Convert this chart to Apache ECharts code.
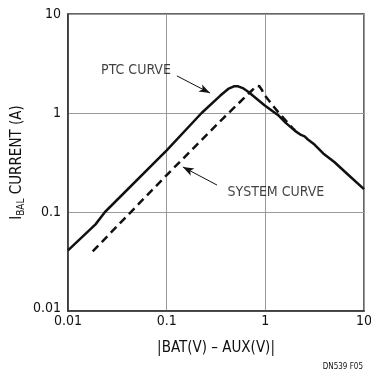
<!DOCTYPE html>
<html>
<head>
<meta charset="utf-8">
<style>
  html, body { margin: 0; padding: 0; background: #fff; }
  #chart { width: 371px; height: 373px; }
</style>
<script src="https://cdn.jsdelivr.net/npm/echarts@6/dist/echarts.min.js"></script>
</head>
<body>
<div id="chart"></div>
<script>
// values (log-log)
const ptcX = [0.01, 0.019, 0.0237, 0.1, 0.226, 0.35, 0.42, 0.48, 0.53, 0.6, 0.67, 0.98, 1.35, 1.6, 2.0, 2.3, 2.5, 2.7, 3.15, 3.86, 5, 7, 10];
const ptcY = [0.041, 0.075, 0.1, 0.42, 1.0, 1.5, 1.75, 1.86, 1.86, 1.77, 1.64, 1.2, 0.95, 0.8, 0.66, 0.6, 0.58, 0.54, 0.48, 0.39, 0.32, 0.235, 0.17];

const sysX = [0.0178, 0.1, 0.376, 0.7, 0.78, 0.83, 0.87, 0.92, 0.98, 1.35, 1.9, 2.0];
const sysY = [0.04, 0.236, 0.89, 1.62, 1.8, 1.88, 1.86, 1.72, 1.52, 1.02, 0.7, 0.67];

const tickLabels = ['0.01', '0.1', '1', '10'];

const FONT = '"Liberation Sans Narrow", "DejaVu Sans Condensed", sans-serif';
const INK = '#111';

const toPairs = (xs, ys) => xs.map((x, i) => [x, ys[i]]);
const tickText = v => tickLabels.find(t => Math.abs(Number(t) - v) / v < 1e-6) || '';

const chart = echarts.init(document.getElementById('chart'));

const logAxis = {
  type: 'log',
  logBase: 10,
  min: 0.01,
  max: 10,
  axisLine: { show: true, lineStyle: { color: '#333', width: 1.5 } },
  axisTick: { show: false },
  minorTick: { show: false },
  splitLine: { show: true, lineStyle: { color: '#9a9a9a', width: 1 } },
  axisLabel: { color: INK, fontFamily: FONT, fontSize: 14, formatter: tickText }
};

const option = {
  animation: false,
  backgroundColor: '#fff',
  grid: {
    left: 68, top: 14, right: 7, bottom: 62,
    outerBoundsMode: 'none',
    containLabel: false,
    show: true, borderColor: '#333', borderWidth: 1.5
  },
  xAxis: {
    ...logAxis,
    name: '|BAT(V) – AUX(V)|',
    nameLocation: 'middle',
    nameGap: 30,
    nameMoveOverlap: false,
    nameTextStyle: { color: INK, fontFamily: FONT, fontSize: 15 },
    axisLabel: { ...logAxis.axisLabel, margin: 3 }
  },
  yAxis: {
    ...logAxis,
    name: '{big|I}{sub|BAL}{big| CURRENT (A)}',
    nameLocation: 'middle',
    nameGap: 42,
    nameMoveOverlap: false,
    nameTextStyle: {
      color: INK, fontFamily: FONT,
      rich: {
        big: { fontSize: 15, fontFamily: FONT, color: INK },
        sub: { fontSize: 10, fontFamily: FONT, color: INK, padding: [8, 0, 0, 0] }
      }
    },
    axisLabel: {
      ...logAxis.axisLabel,
      margin: 7,
      formatter: v => {
        const t = tickText(v);
        return t === '0.01' ? '{lo|' + t + '}' : t;
      },
      rich: { lo: { fontSize: 14, fontFamily: FONT, color: INK, padding: [0, 0, 6, 0] } }
    }
  },
  series: [
    {
      name: 'PTC CURVE',
      type: 'line',
      data: toPairs(ptcX, ptcY),
      showSymbol: false,
      lineStyle: { color: INK, width: 2.5, join: 'round' },
      z: 3,
      markLine: {
        silent: true,
        symbol: ['none', 'arrow'],
        symbolSize: [6, 11],
        label: { show: false },
        lineStyle: { color: INK, width: 1, type: 'solid' },
        data: [
          [{ coord: [0.127, 2.37] }, { coord: [0.275, 1.59] }],
          [{ coord: [0.324, 0.187] }, { coord: [0.146, 0.285] }]
        ]
      }
    },
    {
      name: 'SYSTEM CURVE',
      type: 'line',
      data: toPairs(sysX, sysY),
      showSymbol: false,
      lineStyle: { color: INK, width: 2.5, type: [8, 5], join: 'round' },
      z: 3
    },
    {
      type: 'scatter',
      symbolSize: 0,
      silent: true,
      data: [
        { value: [0.0489, 2.72], name: 'PTC CURVE' },
        { value: [1.28, 0.159], name: 'SYSTEM CURVE' }
      ],
      label: {
        show: true,
        position: 'inside',
        formatter: p => p.name,
        color: INK,
        fontFamily: FONT,
        fontSize: 14
      }
    }
  ],
  graphic: [
    {
      type: 'text',
      right: 8,
      bottom: 2,
      style: { text: 'DN539 F05', fill: INK, font: '8px ' + FONT }
    }
  ]
};

chart.setOption(option);
</script>
</body>
</html>
